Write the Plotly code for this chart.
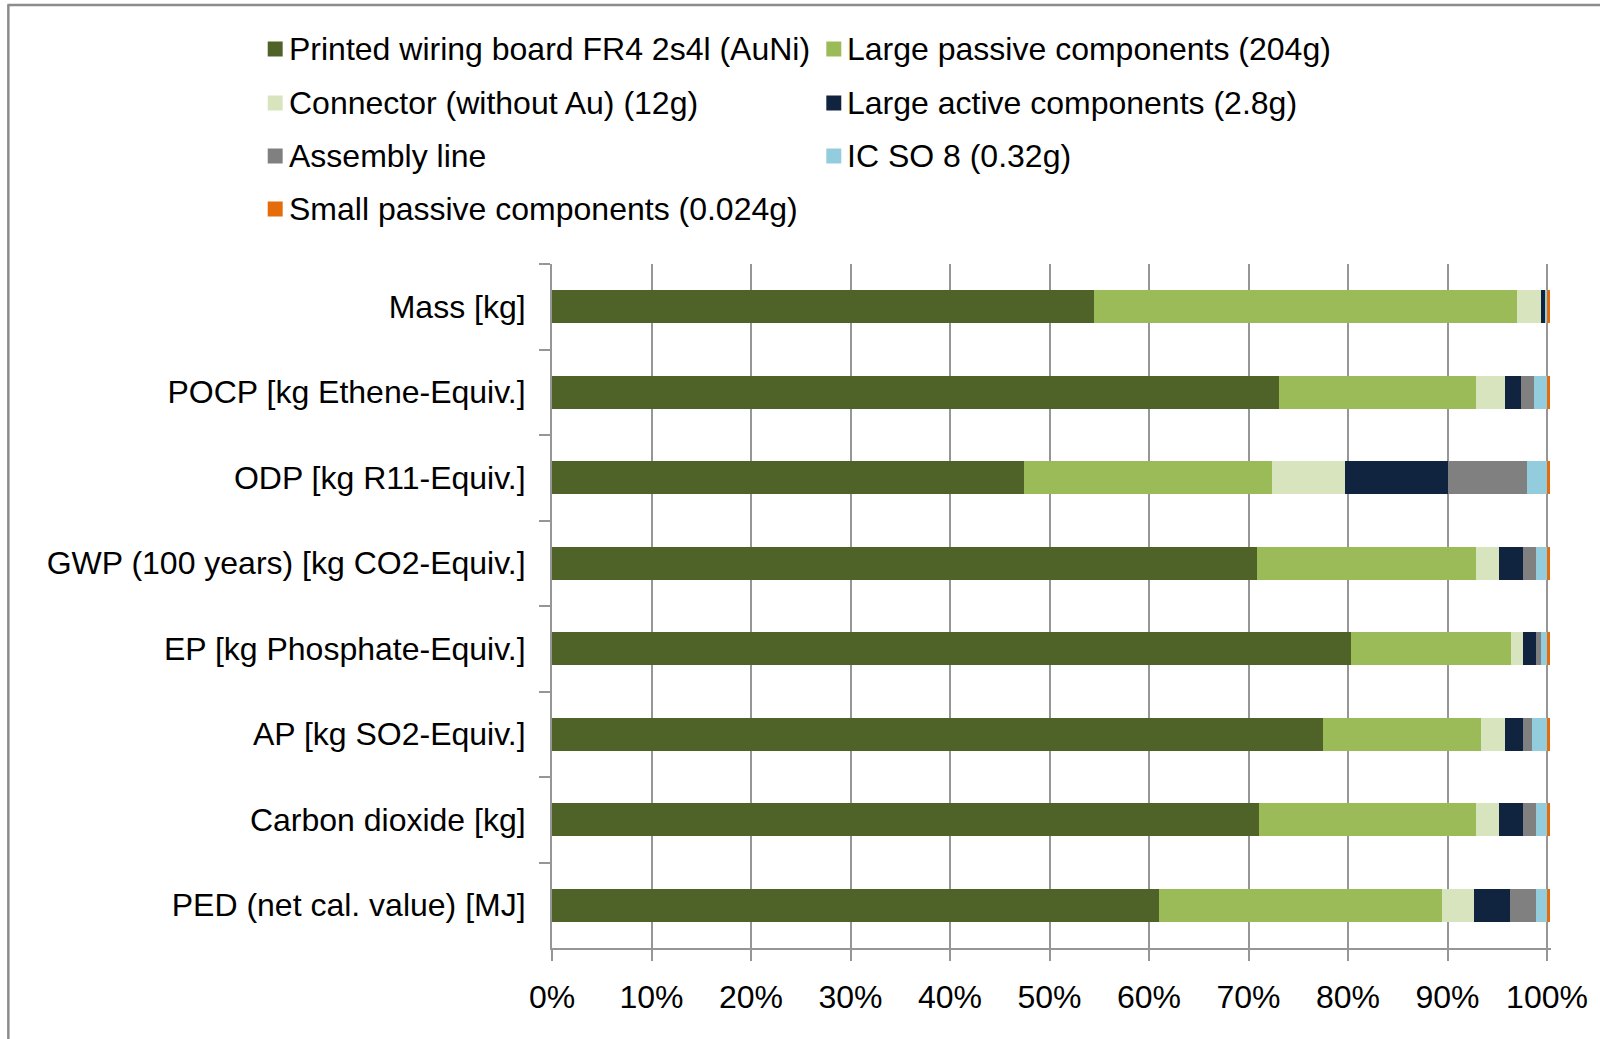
import plotly.graph_objects as go

# Impact categories, listed top to bottom
categories = [
    "Mass [kg]",
    "POCP [kg Ethene-Equiv.]",
    "ODP [kg R11-Equiv.]",
    "GWP (100 years) [kg CO2-Equiv.]",
    "EP [kg Phosphate-Equiv.]",
    "AP [kg SO2-Equiv.]",
    "Carbon dioxide [kg]",
    "PED (net cal. value) [MJ]",
]

# Share of each component in every impact category (%)
pwb = [54.5, 73.1, 47.4, 70.9, 80.3, 77.5, 71.1, 61.0]
large_passive = [42.5, 19.8, 25.0, 22.0, 16.1, 15.85, 21.8, 28.4]
connector = [2.4, 2.9, 7.3, 2.25, 1.15, 2.45, 2.25, 3.3]
large_active = [0.4, 1.55, 10.3, 2.4, 1.3, 1.75, 2.4, 3.55]
assembly = [0.0, 1.3, 8.0, 1.35, 0.5, 0.95, 1.35, 2.6]
ic_so8 = [0.2, 1.35, 2.0, 1.1, 0.65, 1.5, 1.1, 1.15]
small_passive = [0.3, 0.3, 0.3, 0.3, 0.3, 0.3, 0.3, 0.3]

series_names = [
    "Printed wiring board FR4 2s4l (AuNi)",
    "Large passive components (204g)",
    "Connector (without Au) (12g)",
    "Large active components (2.8g)",
    "Assembly line",
    "IC SO 8 (0.32g)",
    "Small passive components (0.024g)",
]
series_values = [pwb, large_passive, connector, large_active, assembly, ic_so8, small_passive]
series_colors = ["#4F6228", "#9BBB59", "#D7E4BD", "#10243F", "#808080", "#93CDDD", "#E46C0A"]

x_ticks = list(range(0, 101, 10))
x_tick_text = [f"{v}%" for v in x_ticks]
x_max = 100.4  # a little headroom so the last segment past 100% stays visible

W, H = 1600, 1039
L, T, B = 552, 264, 948          # plot area edges in pixels
PX_PER_PCT = 9.975
R = L + PX_PER_PCT * x_max
FONT = "Liberation Sans, Arial, sans-serif"
GRID = "#969696"


def px(xp):
    return (xp - L) / (R - L)


def py(yp):
    return (B - yp) / (B - T)


fig = go.Figure()
for name, vals, col in zip(series_names, series_values, series_colors):
    fig.add_trace(go.Bar(
        y=categories, x=vals, name=name, orientation="h",
        marker=dict(color=col, line=dict(width=0)),
        showlegend=False,
    ))

# Legend: two columns laid out on a grid
legend_slots = [(0, 0), (1, 0), (0, 1), (1, 1), (0, 2), (1, 2), (0, 3)]
col_x = [267, 827]
row_y = [49, 103, 156, 209]
shapes = []
annotations = []
for (c, r), name, col in zip(legend_slots, series_names, series_colors):
    x0 = col_x[c]
    yc = row_y[r]
    shapes.append(dict(type="rect", xref="paper", yref="paper",
                       x0=px(x0), x1=px(x0 + 15), y0=py(yc + 7.5), y1=py(yc - 7.5),
                       fillcolor=col, line=dict(width=0)))
    annotations.append(dict(xref="paper", yref="paper", x=px(x0 + 19), y=py(yc),
                            xanchor="left", yanchor="middle", showarrow=False,
                            text=name, font=dict(family=FONT, size=32, color="#000000")))

# Outer frame (top and left edges)
shapes.append(dict(type="line", xref="paper", yref="paper",
                   x0=px(6), x1=px(1605), y0=py(5), y1=py(5),
                   line=dict(color="#8C8C8C", width=2.5)))
shapes.append(dict(type="line", xref="paper", yref="paper",
                   x0=px(7), x1=px(7), y0=py(5), y1=py(1045),
                   line=dict(color="#8C8C8C", width=2.5)))

fig.update_layout(
    width=W, height=H,
    margin=dict(l=L, r=W - R, t=T, b=H - B),
    barmode="stack", bargap=0.61,
    paper_bgcolor="white", plot_bgcolor="white",
    font=dict(family=FONT, size=32, color="#000000"),
    shapes=shapes, annotations=annotations,
    showlegend=False,
    xaxis=dict(
        range=[0, x_max], tickvals=x_ticks, ticktext=x_tick_text,
        showgrid=True, gridcolor=GRID, gridwidth=2,
        showline=True, linecolor=GRID, linewidth=2,
        ticks="outside", ticklen=11, tickcolor=GRID, tickwidth=2,
        ticklabelstandoff=9, zeroline=False,
        tickfont=dict(family=FONT, size=32, color="#000000"),
    ),
    yaxis=dict(
        autorange="reversed", categoryorder="array", categoryarray=categories,
        showline=True, linecolor=GRID, linewidth=2,
        ticks="outside", tickson="boundaries", ticklen=11, tickcolor=GRID, tickwidth=2,
        ticklabelstandoff=18, showgrid=False, zeroline=False,
        tickfont=dict(family=FONT, size=32, color="#000000"),
    ),
)

fig.write_html("out.html")
